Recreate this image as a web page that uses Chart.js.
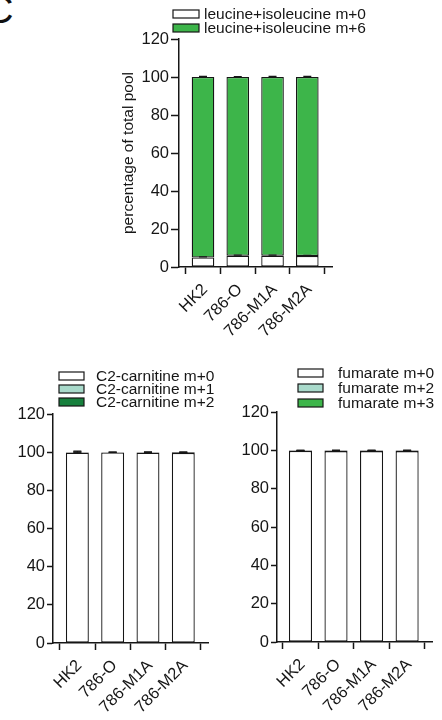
<!DOCTYPE html>
<html>
<head>
<meta charset="utf-8">
<script src="https://cdn.jsdelivr.net/npm/chart.js@4.4.1/dist/chart.umd.min.js"></script>
<style>
  html, body { margin: 0; padding: 0; background: #fff; }
  body { width: 442px; height: 720px; position: relative; overflow: hidden; }
  canvas { position: absolute; }
  #panel { position: absolute; left: -14px; top: -9px; font: 38px "Liberation Sans", Arial, sans-serif; line-height: 38px; color: #111; }
</style>
</head>
<body>
<div id="panel">C</div>
<canvas id="leu" width="342" height="350" style="left:100px;top:0px"></canvas>
<canvas id="c2" width="221" height="365" style="left:0px;top:355px"></canvas>
<canvas id="fum" width="221" height="365" style="left:221px;top:355px"></canvas>
<script>
// Cell lines and axis ticks
const cellLines = ['HK2', '786-O', '786-M1A', '786-M2A'];
const yTicks = [0, 20, 40, 60, 80, 100, 120];

// Leucine + isoleucine isotopologues (% of total pool)
const leuM0 = [5.0, 5.9, 5.9, 5.8];
const leuM6 = [95.0, 94.1, 94.1, 94.2];
const leuM0Sd = [0.3, 0.3, 0.3, 0.3];
const leuM6Sd = [0.3, 0.2, 0.3, 0.3];

// C2-carnitine isotopologues
const c2M0 = [99.7, 99.8, 99.7, 99.6];
const c2M1 = [0.2, 0.1, 0.2, 0.3];
const c2M2 = [0.1, 0.1, 0.1, 0.1];
const c2M0Sd = [0.8, 0.1, 0.2, 0.2];
const c2M1Sd = [0.1, 0.05, 0.1, 0.1];
const c2M2Sd = [0.05, 0.05, 0.05, 0.05];

// Fumarate isotopologues
const fumM0 = [99.7, 99.6, 99.6, 99.6];
const fumM2 = [0.2, 0.2, 0.2, 0.2];
const fumM3 = [0.1, 0.2, 0.2, 0.2];
const fumM0Sd = [0.1, 0.2, 0.2, 0.2];
const fumM2Sd = [0.05, 0.1, 0.1, 0.1];
const fumM3Sd = [0.05, 0.1, 0.1, 0.1];

const FONT = '"Liberation Sans", Arial, sans-serif';
const INK = '#161616';
const WHITE = '#ffffff';
const GREEN = '#3db54a';
const MINT = '#a9dacb';
const DARK_GREEN = '#17803d';

const points = arr => arr.map((v, i) => ({ x: i, y: v }));

function series(label, values, sd, color) {
  return {
    label, data: points(values), sd,
    backgroundColor: color, borderColor: INK, borderWidth: 1.3, borderSkipped: false,
    categoryPercentage: 1, barPercentage: 0.65
  };
}

// Upward SD whiskers on top of each stacked segment
const errorBars = {
  id: 'errorBars',
  afterDatasetsDraw(chart) {
    const ctx = chart.ctx, ys = chart.scales.y;
    const sums = [];
    ctx.save();
    ctx.strokeStyle = INK; ctx.lineWidth = 1.2;
    chart.data.datasets.forEach((ds, di) => {
      chart.getDatasetMeta(di).data.forEach((bar, i) => {
        sums[i] = (sums[i] || 0) + ds.data[i].y;
        const top = ys.getPixelForValue(sums[i]);
        const hi = ys.getPixelForValue(sums[i] + ds.sd[i]);
        ctx.beginPath();
        ctx.moveTo(bar.x, top); ctx.lineTo(bar.x, hi);
        ctx.moveTo(bar.x - 4, hi); ctx.lineTo(bar.x + 4, hi);
        ctx.stroke();
      });
    });
    ctx.restore();
  }
};

// Stacked key boxes with labels in the upper part of each panel
const boxLegend = {
  id: 'boxLegend',
  afterDraw(chart, args, o) {
    const ctx = chart.ctx;
    ctx.save();
    chart.data.datasets.forEach((ds, i) => {
      const y = o.top + i * o.step;
      ctx.fillStyle = ds.backgroundColor;
      ctx.fillRect(o.boxX, y, o.boxW, o.boxH);
      ctx.strokeStyle = INK; ctx.lineWidth = 1.2;
      ctx.strokeRect(o.boxX, y, o.boxW, o.boxH);
      ctx.fillStyle = INK;
      ctx.font = '15.5px ' + FONT;
      ctx.textBaseline = 'alphabetic';
      ctx.textAlign = 'left';
      ctx.fillText(ds.label, o.textX, y + o.boxH / 2 + 5);
    });
    ctx.restore();
  }
};

function makeChart(id, datasets, g) {
  return new Chart(document.getElementById(id), {
    type: 'bar',
    data: { datasets },
    plugins: [errorBars, boxLegend],
    options: {
      responsive: false,
      animation: false,
      layout: { padding: { left: 0, top: g.top, right: g.right, bottom: 0 } },
      plugins: {
        legend: { display: false },
        tooltip: { enabled: false },
        boxLegend: g.legend
      },
      scales: {
        x: {
          type: 'linear', stacked: true, min: g.xMin, max: g.xMax, offset: false,
          afterBuildTicks: s => { s.ticks = cellLines.map((_, i) => ({ value: i })); },
          afterFit: s => { s.height = g.xHeight; },
          grid: { drawOnChartArea: false, drawTicks: true, tickLength: 7, tickWidth: 1.5, tickColor: INK },
          border: { color: INK, width: 1.5 },
          ticks: {
            callback: v => cellLines[v],
            autoSkip: false, minRotation: 45, maxRotation: 45, padding: 6, labelOffset: 2,
            color: INK, font: { family: FONT, size: 16.5 }
          }
        },
        y: {
          stacked: true, min: 0, max: 120,
          afterBuildTicks: s => { s.ticks = yTicks.map(v => ({ value: v })); },
          afterFit: s => { s.width = g.yWidth; },
          grid: { drawOnChartArea: false, drawTicks: true, tickLength: g.yTick, tickWidth: 1.5, tickColor: INK },
          border: { color: INK, width: 1.5 },
          ticks: { padding: 2, color: INK, font: { family: FONT, size: 16.5 } },
          title: g.yTitle
            ? { display: true, text: g.yTitle, color: INK, font: { family: FONT, size: 15.5 }, padding: { top: 19, bottom: 0 } }
            : { display: false }
        }
      }
    }
  });
}

makeChart('leu', [
  series('leucine+isoleucine m+0', leuM0, leuM0Sd, WHITE),
  series('leucine+isoleucine m+6', leuM6, leuM6Sd, GREEN)
], {
  top: 39, right: 110, xHeight: 83, yWidth: 79, yTick: 8, xMin: -0.69, xMax: 3.71,
  yTitle: 'percentage of total pool',
  legend: { boxX: 73, boxW: 26, boxH: 8, top: 10, step: 14, textX: 104 }
});

makeChart('c2', [
  series('C2-carnitine m+0', c2M0, c2M0Sd, WHITE),
  series('C2-carnitine m+1', c2M1, c2M1Sd, MINT),
  series('C2-carnitine m+2', c2M2, c2M2Sd, DARK_GREEN)
], {
  top: 59, right: 13, xHeight: 77, yWidth: 53, yTick: 6, xMin: -0.69, xMax: 3.7,
  legend: { boxX: 59, boxW: 25, boxH: 8, top: 17, step: 13, textX: 96 }
});

makeChart('fum', [
  series('fumarate m+0', fumM0, fumM0Sd, WHITE),
  series('fumarate m+2', fumM2, fumM2Sd, MINT),
  series('fumarate m+3', fumM3, fumM3Sd, GREEN)
], {
  top: 57, right: 10, xHeight: 78, yWidth: 56, yTick: 6, xMin: -0.66, xMax: 3.7,
  legend: { boxX: 77, boxW: 25, boxH: 8, top: 14, step: 15, textX: 117 }
});
</script>
</body>
</html>
